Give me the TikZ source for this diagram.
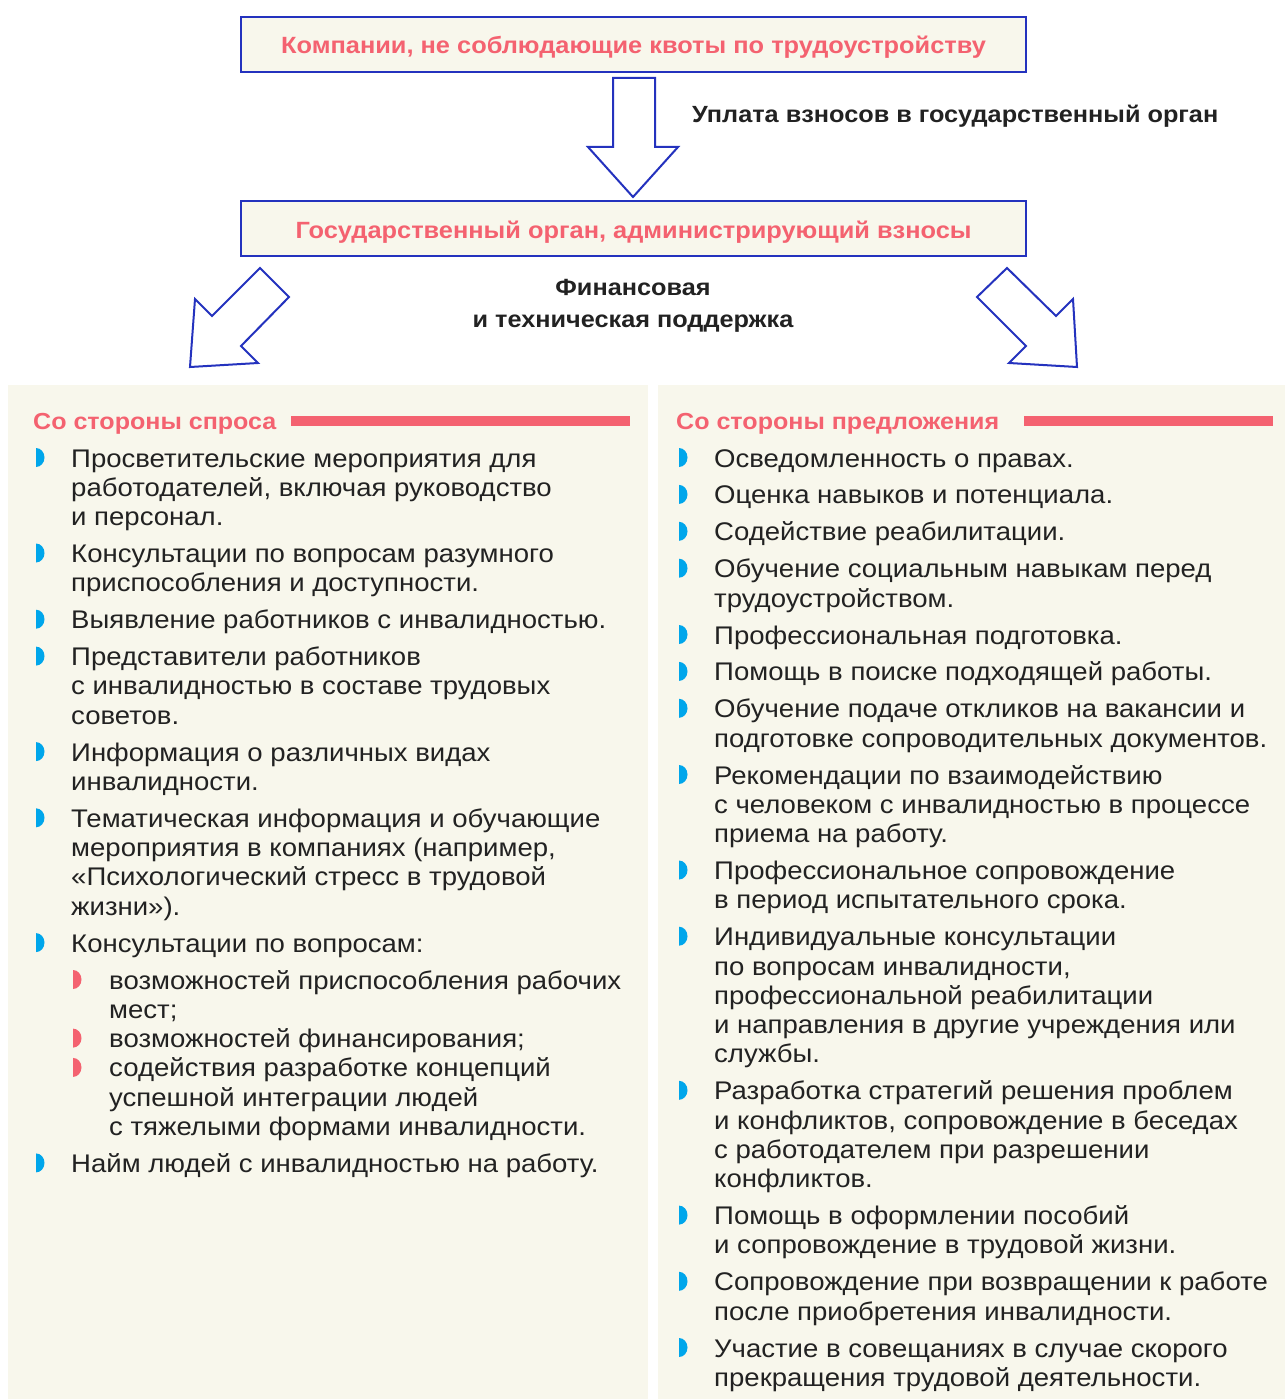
\documentclass[tikz,border=0pt]{standalone}
\usepackage{fontspec}
\setmainfont{Liberation Sans}[FakeStretch=1.08]
\definecolor{bordblue}{RGB}{36,50,190}
\definecolor{pinkc}{RGB}{244,98,112}
\definecolor{cream}{RGB}{248,247,236}
\definecolor{bulblue}{RGB}{0,166,235}
\definecolor{txt}{RGB}{34,34,34}
\newcommand{\ml}[1]{\begin{tabular}[t]{@{}l@{}}#1\end{tabular}}
\tikzset{
  body/.style={anchor=base west, inner sep=0pt, text=txt, font=\fontsize{25.5}{29.3}\selectfont},
  hdr/.style={anchor=base west, inner sep=0pt, text=pinkc, font=\bfseries\fontsize{23.2}{28}\selectfont},
  lbl/.style={inner sep=0pt, text=txt, font=\bfseries\fontsize{23.4}{28}\selectfont},
  topbox/.style={draw=bordblue, line width=2.5pt, fill=cream, minimum width=785pt, minimum height=55pt, inner sep=0pt, text=pinkc, font=\bfseries\fontsize{23.5}{28}\selectfont, text height=19pt, text depth=0pt},
  hollow/.style={draw=bordblue, line width=2pt, fill=white, line join=miter},
  panel/.style={fill=cream, draw=none},
  bar/.style={fill=pinkc, draw=none},
  bul/.pic={\fill (0,-9.5) arc[start angle=-90,end angle=90,x radius=8.5,y radius=9.5] -- cycle;}
}
\begin{document}
\begin{tikzpicture}[x=1pt,y=-1pt]
\useasboundingbox (0,0) rectangle (1285,1399);
\fill[white] (0,0) rectangle (1285,1399);
% boxes
\node[topbox] (comp) at (633.5,44.5) {Компании, не соблюдающие квоты по трудоустройству};
\node[topbox] (gov) at (633.5,228.5) {Государственный орган, администрирующий взносы};
% down arrow
\draw[hollow] (613,78) -- (655,78) -- (655,147) -- (678,147) -- (633,197) -- (588,147) -- (613,147) -- cycle;
\node[lbl, anchor=base west] (pay) at (692,123) {Уплата взносов в государственный орган};
% diagonal arrows
\draw[hollow] (260,268) -- (289,297) -- (241,346) -- (258,363) -- (190,367) -- (195,299) -- (212,316) -- cycle;
\draw[hollow] (1007,268) -- (977,297) -- (1026,346) -- (1009,363) -- (1077,367) -- (1073,299) -- (1056,316) -- cycle;
\node[lbl, anchor=base] (fin1) at (633,295) {Финансовая};
\node[lbl, anchor=base] (fin2) at (633,327) {и техническая поддержка};
% panels
\fill[panel] (8,385) rectangle (648,1399);
\fill[panel] (658,385) rectangle (1285,1399);
\fill[bar] (291,416) rectangle (630,426);
\fill[bar] (1024,416) rectangle (1273,426);
\node[hdr] (hl) at (33,429) {Со стороны спроса};
\node[hdr] (hr) at (676,429) {Со стороны предложения};
% left items
\foreach \y in {467,562.5,628.7,665.6,761.1,827.3,952.1,1172.4} {\pic[bulblue] at (36,\y-9.5) {bul};}
\foreach \y in {989,1047.6,1076.9} {\pic[pinkc] at (73,\y-9.5) {bul};}
\node[body] (l1) at (71,467) {\ml{Просветительские мероприятия для\\работодателей, включая руководство\\и персонал.}};
\node[body] (l2) at (71,562.5) {\ml{Консультации по вопросам разумного\\приспособления и доступности.}};
\node[body] (l3) at (71,628.7) {\ml{Выявление работников с инвалидностью.}};
\node[body] (l4) at (71,665.6) {\ml{Представители работников\\с инвалидностью в составе трудовых\\советов.}};
\node[body] (l5) at (71,761.1) {\ml{Информация о различных видах\\инвалидности.}};
\node[body] (l6) at (71,827.3) {\ml{Тематическая информация и обучающие\\мероприятия в компаниях (например,\\«Психологический стресс в трудовой\\жизни»).}};
\node[body] (l7) at (71,952.1) {\ml{Консультации по вопросам:}};
\node[body] (l7a) at (109,989) {\ml{возможностей приспособления рабочих\\мест;}};
\node[body] (l7b) at (109,1047.6) {\ml{возможностей финансирования;}};
\node[body] (l7c) at (109,1076.9) {\ml{содействия разработке концепций\\успешной интеграции людей\\с тяжелыми формами инвалидности.}};
\node[body] (l8) at (71,1172.4) {\ml{Найм людей с инвалидностью на работу.}};
% right items
\foreach \y in {467,503.9,540.8,577.7,644,680.9,717.8,784,879.5,945.7,1099.8,1224.6,1290.8,1357} {\pic[bulblue] at (679,\y-9.5) {bul};}
\node[body] (r1) at (714,467) {\ml{Осведомленность о правах.}};
\node[body] (r2) at (714,503.9) {\ml{Оценка навыков и потенциала.}};
\node[body] (r3) at (714,540.8) {\ml{Содействие реабилитации.}};
\node[body] (r4) at (714,577.7) {\ml{Обучение социальным навыкам перед\\трудоустройством.}};
\node[body] (r5) at (714,644) {\ml{Профессиональная подготовка.}};
\node[body] (r6) at (714,680.9) {\ml{Помощь в поиске подходящей работы.}};
\node[body] (r7) at (714,717.8) {\ml{Обучение подаче откликов на вакансии и\\подготовке сопроводительных документов.}};
\node[body] (r8) at (714,784) {\ml{Рекомендации по взаимодействию\\с человеком с инвалидностью в процессе\\приема на работу.}};
\node[body] (r9) at (714,879.5) {\ml{Профессиональное сопровождение\\в период испытательного срока.}};
\node[body] (r10) at (714,945.7) {\ml{Индивидуальные консультации\\по вопросам инвалидности,\\профессиональной реабилитации\\и направления в другие учреждения или\\службы.}};
\node[body] (r11) at (714,1099.8) {\ml{Разработка стратегий решения проблем\\и конфликтов, сопровождение в беседах\\с работодателем при разрешении\\конфликтов.}};
\node[body] (r12) at (714,1224.6) {\ml{Помощь в оформлении пособий\\и сопровождение в трудовой жизни.}};
\node[body] (r13) at (714,1290.8) {\ml{Сопровождение при возвращении к работе\\после приобретения инвалидности.}};
\node[body] (r14) at (714,1357) {\ml{Участие в совещаниях в случае скорого\\прекращения трудовой деятельности.}};
\end{tikzpicture}
\end{document}
